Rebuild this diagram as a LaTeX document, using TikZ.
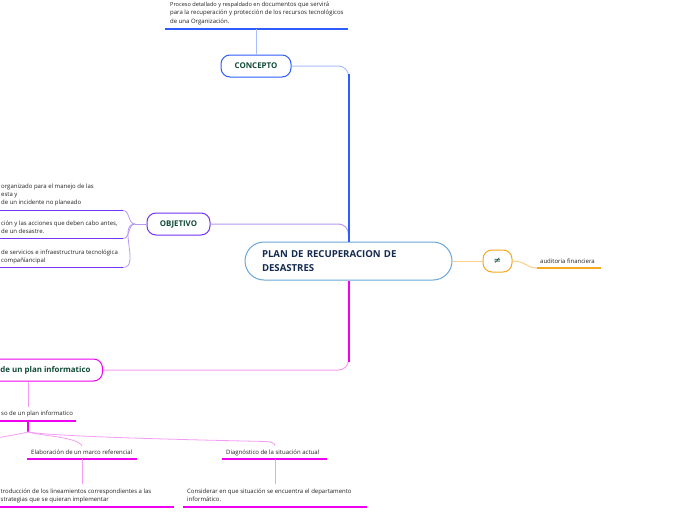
\documentclass[tikz,border=0pt]{standalone}
\usepackage{fontspec}
\setmainfont{Open Sans}
\newfontfamily\dejavu{DejaVu Sans}
\usetikzlibrary{calc}
\definecolor{cblue}{HTML}{2F5CFF}
\definecolor{cbluel}{HTML}{A9BEFF}
\definecolor{cpurple}{HTML}{7434F5}
\definecolor{cpurplel}{HTML}{B79AF5}
\definecolor{cmag}{HTML}{F000F0}
\definecolor{cmagl}{HTML}{F59CF5}
\definecolor{corange}{HTML}{F7A823}
\definecolor{corangel}{HTML}{F9CF8A}
\definecolor{cborder}{HTML}{6AA6DA}
\definecolor{lgreen}{HTML}{0F4A38}
\definecolor{cnavy}{HTML}{142B4F}
\definecolor{ctext}{HTML}{222222}
\tikzset{
  small/.style={font=\fontsize{6}{8.3}\selectfont, text=ctext, inner sep=0pt, anchor=base west, align=left},
  topic/.style={draw, rounded corners=9pt, line width=1pt, minimum height=22pt, inner xsep=0pt, font=\bfseries\fontsize{7.9}{8}\selectfont, text=lgreen},
  uline/.style={line width=1.4pt},
  link/.style={line width=0.8pt}
}
\begin{document}
\begin{tikzpicture}[x=1pt,y=-1pt]
\clip (0,0) rectangle (696,520);
\fill[white] (0,0) rectangle (696,520);

% nodes
\node[topic, draw=cblue, minimum width=70pt] (concept) at (256,66) {CONCEPTO};
\node[draw=cborder, line width=1pt, rounded corners=19pt, minimum height=38pt, text width=173pt, inner xsep=17pt, align=left, font=\bfseries\fontsize{9.6}{14}\selectfont, text=cnavy] (central) at (348.5,261) {PLAN DE RECUPERACION DE\\DESASTRES};
\node[topic, draw=cpurple, minimum width=63pt] (objetivo) at (178.5,224) {OBJETIVO};
\node[topic, draw=corange, minimum width=29pt, font=\dejavu\fontsize{9}{9}\selectfont] (neq) at (497.5,261) {≠};
\node[topic, draw=cmag, anchor=east, inner xsep=12pt] (plan) at (103,370) {de un plan informatico};

% concept branch (anchor = baseline of last line)
\node[small] (def) at (170,23.2) {{\fontsize{5.6}{8.3}\selectfont Proceso detallado y respaldado en} documentos que servirá\\para la recuperación y protección de los recursos tecnológicos\\de una Organización.};
\coordinate (defL) at (165,29);
\coordinate (defR) at (348,29);
\draw[cblue, uline] (defL) -- (defR);
\draw[cbluel, link] (concept.north) -- (concept.north |- defL);

% objective branch
\draw[cpurplel, line width=1pt, rounded corners=10pt] (objetivo.east) -| (central.north);
\draw[cbluel, line width=1pt, rounded corners=10pt] (concept.east) -| (central.north);
\draw[cblue, line width=2pt] ($(concept.east -| central.north)+(0,8)$) -- (central.north);

\node[small] (o1) at (1,204.8) {organizado para el manejo de las\\esta y\\de un incidente no planeado};
\node[small] (o2) at (1,233.8) {ción y las acciones que deben cabo antes,\\de un desastre.};
\node[small] (o3) at (1,262.3) {de servicios e infraestructrura tecnológica\\compañíancipal};
\coordinate (o1L) at (0,210.5);   \coordinate (o1R) at (123,210.5);
\coordinate (o2L) at (0,238.5);   \coordinate (o2R) at (123,238.5);
\coordinate (o3L) at (0,267.5);   \coordinate (o3R) at (123,267.5);
\coordinate (oj) at (135,224);
\draw[cpurplel, link] (objetivo.west) -- (oj);
\foreach \t in {o1R,o2R,o3R}{\draw[cpurplel, link] (oj) to[out=180,in=0] (\t);}
\draw[cpurple, uline] (o1L) -- (o1R);
\draw[cpurple, uline] (o2L) -- (o2R);
\draw[cpurple, uline] (o3L) -- (o3R);

% orange branch
\draw[corangel, line width=1pt] (central.east) -- (neq.west);
\node[small] (aud) at (540,263.3) {auditoria financiera};
\coordinate (audL) at (537,268);
\coordinate (audR) at (601,268);
\draw[corangel, line width=1pt] (neq.east) .. controls (526,261) and (526,268) .. (audL);
\draw[corange, uline] (audL) -- (audR);

% magenta branch
\draw[cmagl, line width=1pt, rounded corners=10pt] (central.south) |- (plan.east);
\draw[cmag, line width=2pt] (central.south) -- ($(central.south |- plan.east)+(0,-8)$);

\node[small] (p1) at (1,415.5) {so de un plan informatico};
\coordinate (p1U) at (28,421);
\coordinate (p1L) at (0,421);
\coordinate (p1R) at (76,421);
\draw[cmagl, link] (plan.south -| p1U) -- ($(p1U)+(0,-14)$);
\draw[cmag, uline] (p1L) -- (p1R);
\coordinate (bj) at (28,432);
\draw[cmag, uline] (p1U) -- (bj);
\coordinate (bjL) at (-4,438);
\coordinate (e1T) at (82,446);
\coordinate (d1T) at (275,446);
\draw[cmagl, link] (bj) .. controls (20,434) and (8,436) .. (bjL);
\draw[cmagl, link] (bj) .. controls (42,436) and (78,437) .. (e1T);
\draw[cmagl, link] (bj) .. controls (60,437) and (200,440) .. (266,441.5) .. controls (272,442) and (275,443) .. (d1T);

\node[small] (e1) at (31,454.5) {Elaboración de un marco referencial};
\node[small] (d1) at (226,454.5) {Diagnóstico de la situación actual};
\coordinate (e1L) at (27,459);  \coordinate (e1R) at (137,459);
\coordinate (d1L) at (222,459); \coordinate (d1R) at (327,459);
\draw[cmag, uline] (e1L) -- (e1R);
\draw[cmag, uline] (d1L) -- (d1R);
\coordinate (e1B) at (82,459);
\coordinate (d1B) at (275,459);
\draw[cmagl, link] (e1B) -- ++(0,25) coordinate (e2T);
\draw[cmagl, link] (d1B) -- ++(0,25) coordinate (d2T);

\node[small] (e2) at (0.5,501.3) {troducción de los lineamientos correspondientes a las\\strategias que se quieran implementar};
\node[small] (d2) at (187,501.3) {Considerar en que situación se encuentra el departamento\\informático.};
\coordinate (e2L) at (0,507);   \coordinate (e2R) at (174,507);
\coordinate (d2L) at (183,507); \coordinate (d2R) at (367,507);
\draw[cmag, uline] (e2L) -- (e2R);
\draw[cmag, uline] (d2L) -- (d2R);
\end{tikzpicture}
\end{document}
